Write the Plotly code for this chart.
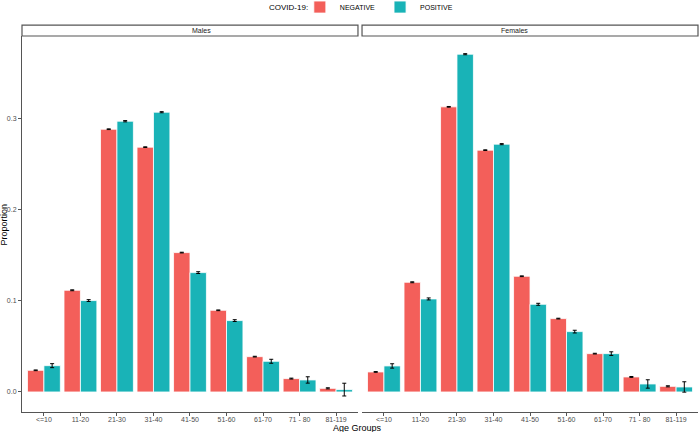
import plotly.graph_objects as go

age_groups = ["<=10", "11-20", "21-30", "31-40", "41-50", "51-60", "61-70", "71 - 80", "81-119"]

males_negative = [0.0238, 0.1117, 0.2886, 0.2689, 0.1531, 0.0897, 0.0388, 0.0147, 0.0040]
males_negative_err = [0.0004, 0.0005, 0.0004, 0.0004, 0.0004, 0.0004, 0.0004, 0.0005, 0.0006]
males_positive = [0.0289, 0.1004, 0.2974, 0.3073, 0.1311, 0.0784, 0.0337, 0.0132, 0.0026]
males_positive_err = [0.0022, 0.0010, 0.0007, 0.0006, 0.0010, 0.0010, 0.0022, 0.0035, 0.0070]

females_negative = [0.0220, 0.1205, 0.3132, 0.2656, 0.1271, 0.0806, 0.0421, 0.0165, 0.0062]
females_negative_err = [0.0004, 0.0005, 0.0004, 0.0004, 0.0004, 0.0004, 0.0004, 0.0005, 0.0006]
females_positive = [0.0286, 0.1022, 0.3710, 0.2722, 0.0963, 0.0663, 0.0421, 0.0088, 0.0055]
females_positive_err = [0.0024, 0.0011, 0.0006, 0.0006, 0.0011, 0.0015, 0.0020, 0.0046, 0.0057]

y_ticks = [0.0, 0.1, 0.2, 0.3]
y_tick_labels = ["0.0", "0.1", "0.2", "0.3"]

red = "#F35F5A"
teal = "#19B3B7"

fig = go.Figure()


def add_bars(values, errors, name, color, xaxis, show):
    fig.add_trace(
        go.Bar(
            x=age_groups,
            y=values,
            name=name,
            marker=dict(color=color, line=dict(color="white", width=0.8)),
            error_y=dict(type="data", array=errors, color="black", thickness=1, width=2),
            xaxis=xaxis,
            yaxis="y",
            legendgroup=name,
            showlegend=show,
            offsetgroup=name,
        )
    )


add_bars(males_negative, males_negative_err, "NEGATIVE", red, "x", True)
add_bars(males_positive, males_positive_err, "POSITIVE", teal, "x", True)
add_bars(females_negative, females_negative_err, "NEGATIVE", red, "x2", False)
add_bars(females_positive, females_positive_err, "POSITIVE", teal, "x2", False)

tick_font = dict(family="Liberation Sans, Arial, sans-serif", size=7, color="#4D4D4D")
axis_common = dict(
    showline=True,
    linecolor="#555555",
    linewidth=1,
    ticks="outside",
    ticklen=3,
    tickcolor="#555555",
    tickfont=tick_font,
    ticklabelstandoff=-2,
    showgrid=False,
    zeroline=False,
    range=[-0.6, 8.6],
    type="category",
    automargin=False,
)

fig.update_layout(
    width=700,
    height=432,
    paper_bgcolor="white",
    plot_bgcolor="white",
    barmode="group",
    bargap=0.1,
    bargroupgap=0,
    margin=dict(l=22, r=2, t=36, b=20, autoexpand=False),
    font=dict(family="Liberation Sans, Arial, sans-serif", color="black"),
    xaxis=dict(domain=[0, 0.497], anchor="y", **axis_common),
    xaxis2=dict(domain=[0.503, 1], anchor="y", **axis_common),
    yaxis=dict(
        range=[-0.022, 0.391],
        tickvals=y_ticks,
        ticktext=y_tick_labels,
        showline=True,
        linecolor="#555555",
        linewidth=1,
        ticks="outside",
        ticklen=3,
        tickcolor="#555555",
        tickfont=tick_font,
        showgrid=False,
        zeroline=False,
        automargin=False,
    ),
    legend=dict(
        orientation="h",
        x=0.411,
        xanchor="left",
        y=1.077,
        yanchor="middle",
        font=dict(size=7),
        itemwidth=30,
        tracegroupgap=0,
    ),
    shapes=[
        dict(type="rect", xref="paper", yref="paper", x0=0, x1=0.497, y0=1, y1=1.029,
             line=dict(color="#555555", width=1.2), fillcolor="white"),
        dict(type="rect", xref="paper", yref="paper", x0=0.503, x1=1, y0=1, y1=1.029,
             line=dict(color="#555555", width=1.2), fillcolor="white"),
    ],
    annotations=[
        dict(text="COVID-19:", xref="paper", yref="paper", x=0.426, y=1.077,
             showarrow=False, font=dict(size=8), xanchor="right", yanchor="middle"),
        dict(text="Males", xref="paper", yref="paper", x=0.2485, y=1.0146,
             showarrow=False, font=dict(size=7, color="#1A1A1A"), yanchor="middle"),
        dict(text="Females", xref="paper", yref="paper", x=0.7515, y=1.0146,
             showarrow=False, font=dict(size=7, color="#1A1A1A"), yanchor="middle"),
        dict(text="Age Groups", xref="paper", yref="paper", x=0.497, y=-0.0426,
             showarrow=False, font=dict(size=9), yanchor="middle"),
        dict(text="Proportion", xref="paper", yref="paper", x=-0.026, y=0.5,
             showarrow=False, font=dict(size=9), textangle=-90, xanchor="center"),
    ],
)

# the page body has a default 8px margin, drop it so the figure fills the window
fig.write_html(
    "out.html",
    config={"displayModeBar": False},
    post_script="document.body.style.margin='0px';",
)
